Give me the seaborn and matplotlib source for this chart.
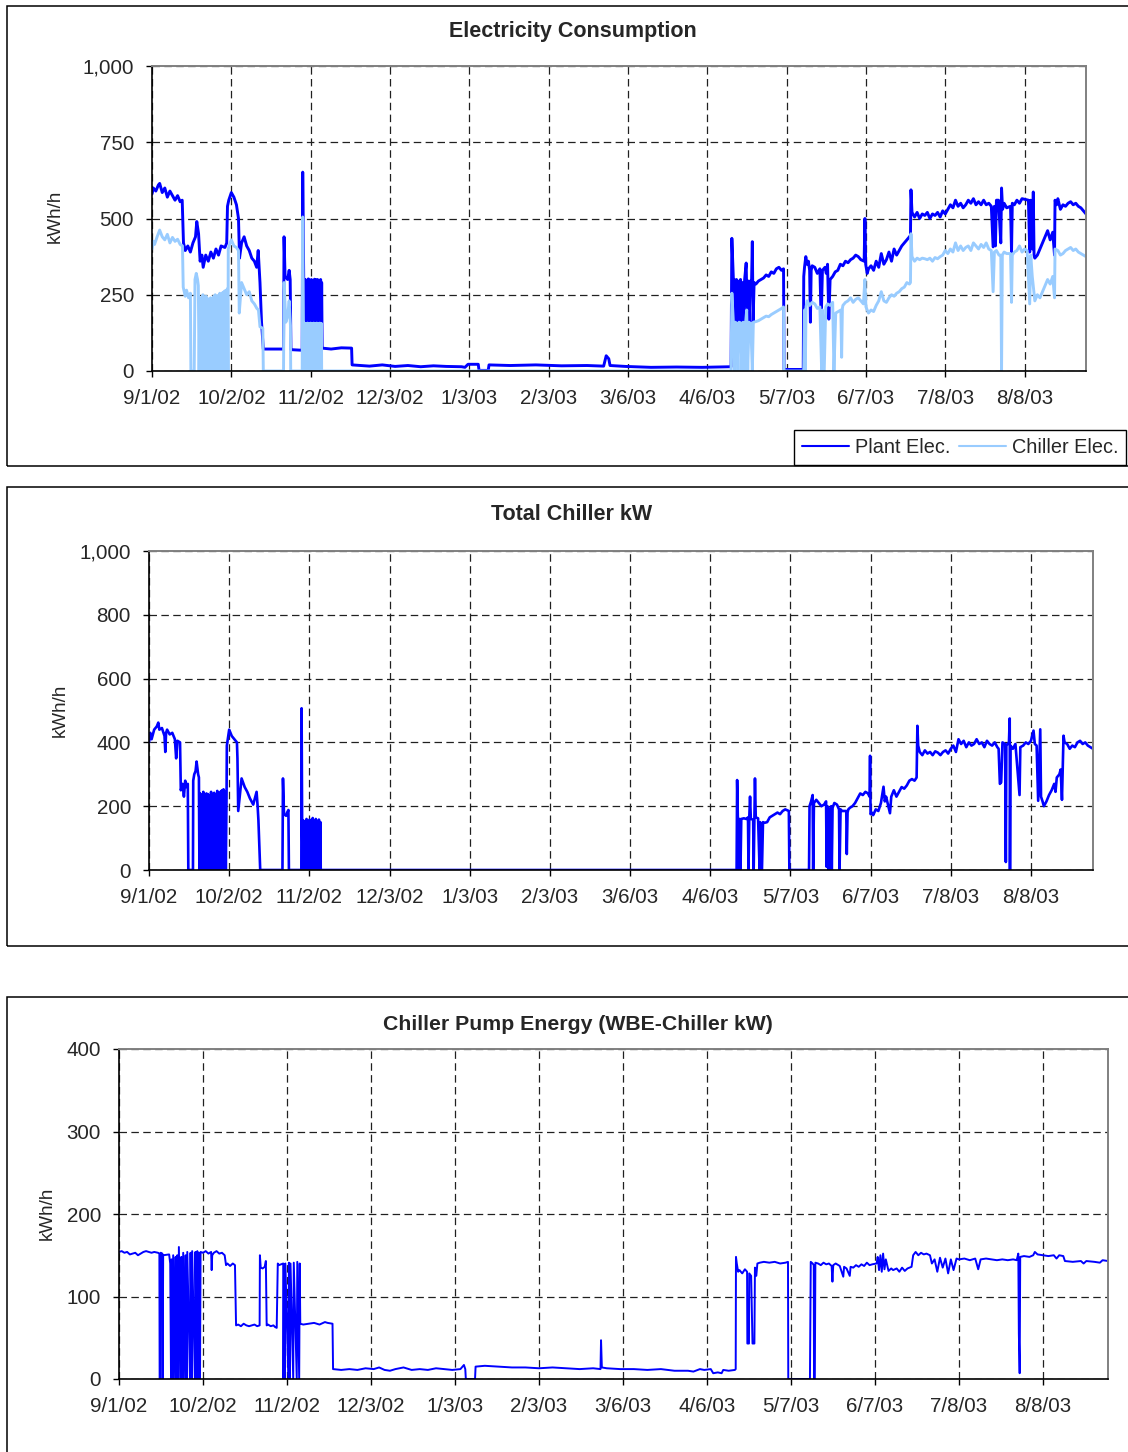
import numpy as np
import pandas as pd
import matplotlib
matplotlib.use("Agg")
from matplotlib import pyplot as plt
from matplotlib.lines import Line2D
from matplotlib.patches import Rectangle
import seaborn as sns

# === Data (days counted from 9/1/02) ===
tick_days = [0, 31, 62, 93, 124, 155, 186, 217, 248, 279, 310, 341]
tick_labels = ["9/1/02", "10/2/02", "11/2/02", "12/3/02", "1/3/03", "2/3/03",
               "3/6/03", "4/6/03", "5/7/03", "6/7/03", "7/8/03", "8/8/03"]

# Electricity Consumption - Plant Elec. (kWh/h)
plant_elec = [
    (0, 580), (0.5, 600), (1.5, 590), (2.5, 610), (3, 615), (4, 585), (5, 600), (6, 570),
    (7, 590), (8, 575), (9, 560), (10, 575), (11, 555), (11.8, 560),
    (12.3, 420), (13, 395), (14, 410), (15, 390), (16, 420), (17, 440), (17.5, 490),
    (18.2, 450), (18.8, 360), (19.5, 380), (20, 340), (21, 380), (22, 360), (23, 390),
    (24, 370), (25, 400), (26, 380), (27, 410), (28.5, 405), (29.2, 420),
    (29.5, 540), (30, 560), (31, 585), (32, 570), (33, 545), (33.8, 500), (34.2, 370),
    (35, 420), (36, 440), (37, 410), (38, 395), (39, 370), (40, 360), (40.9, 340),
    (41.5, 395), (42.2, 290), (42.8, 160), (43.5, 72),
    (51.4, 72), (51.6, 440), (52, 310), (53, 300), (53.6, 330), (54, 300), (54.3, 70),
    (58.7, 68), (58.9, 652),
    (59.3, 290), (59.6, 157), (59.9, 300), (60.2, 160), (60.5, 296), (60.8, 157),
    (61.1, 302), (61.4, 158), (61.7, 298), (62.0, 160), (62.3, 300), (62.6, 157),
    (62.9, 297), (63.2, 160), (63.5, 301), (63.8, 158), (64.1, 299), (64.4, 157),
    (64.7, 300), (65.0, 160), (65.3, 296), (65.6, 157), (65.9, 300), (66.2, 158),
    (66.3, 290), (66.5, 75), (70, 72), (74, 76), (78, 75),
    (78.2, 20), (85, 16), (90, 20), (95, 15), (100, 18), (105, 14), (110, 17), (115, 15),
    (121, 14), (122.3, 12), (123.5, 22), (127.5, 22), (127.8, 2), (131.4, 2), (131.7, 20),
    (140, 18), (150, 20), (160, 17), (170, 18), (176.5, 16), (177.5, 50), (178.5, 40),
    (179, 18), (185, 15), (195, 12), (205, 13), (215, 12), (226.3, 14),
    (226.6, 435), (227.2, 300), (227.5, 300), (228, 157), (228.4, 300), (228.8, 290),
    (229.2, 157), (229.6, 295), (230, 300), (230.4, 160), (230.8, 290), (231.2, 157),
    (231.6, 300), (232.2, 354), (232.6, 160), (233, 295), (233.4, 160), (233.8, 295),
    (234.3, 290), (234.6, 424), (234.9, 160), (235.3, 290), (236, 285),
    (237, 295), (238, 300), (239, 305), (240, 315), (241, 310), (242, 325), (243, 320),
    (244, 335), (245, 340), (246, 330), (246.8, 335), (247, 5),
    (254.5, 5), (254.7, 310), (255, 340), (255.5, 375), (256, 350), (256.5, 360),
    (257, 330), (257.3, 160), (257.6, 330), (258, 345), (259, 340), (260, 320),
    (261, 335), (261.5, 165), (262, 330), (263, 340), (263.5, 320), (264, 350),
    (264.5, 170), (265, 300), (266, 310), (267, 325), (268, 330), (269, 350), (270, 345),
    (271, 360), (272, 355), (273, 365), (274, 370), (275, 380), (276, 375), (277, 365),
    (278.3, 360), (278.6, 500), (278.9, 350), (279.5, 320), (280, 335),
    (281, 345), (282, 330), (283, 360), (284, 340), (285, 385), (286, 350), (287, 365),
    (288, 390), (289, 360), (290, 400), (291, 380), (292, 395), (293, 410), (294, 420),
    (295, 430), (296, 440), (296.4, 445), (296.6, 594), (297, 520), (298, 505),
    (299, 520), (300, 500), (301, 515), (302, 510), (303, 520), (304, 500), (305, 515),
    (306, 510), (307, 520), (308, 505), (309, 525), (310, 515), (311, 530), (312, 545),
    (313, 535), (314, 560), (315, 540), (316, 550), (317, 535), (318, 545), (319, 560),
    (320, 550), (321, 565), (322, 545), (323, 555), (324, 545), (325, 560), (326, 545),
    (327, 550), (328, 540), (328.7, 407), (329.2, 540), (329.6, 410), (330, 560),
    (330.8, 560), (331.7, 420), (332, 600), (332.4, 530), (333, 550), (334, 535),
    (335.5, 540), (335.9, 390), (336.2, 550), (337, 545), (338, 560), (339, 550),
    (340, 565), (342.5, 560), (343, 390), (343.4, 560), (344, 400), (344.4, 587),
    (344.7, 380), (345, 370), (346, 380), (347, 400), (348, 420), (349, 440), (350, 460),
    (351, 430), (352, 455), (352.7, 380), (352.9, 560), (353.5, 545), (354, 565),
    (355, 530), (356, 545), (357, 540), (358, 550), (359, 555), (360, 545), (361, 550),
    (362, 540), (363, 535), (364, 525), (365, 515),
]

# Electricity Consumption - Chiller Elec. (kWh/h)
chiller_elec = [
    (0, 400), (0.5, 425), (1, 415), (2, 440), (3, 462), (4, 440), (5, 430), (6, 448),
    (7, 420), (8, 438), (9, 425), (10, 432), (11, 415), (11.9, 410), (12.2, 275),
    (13, 245), (13.5, 265), (14.3, 240), (15, 255), (15.2, 0), (16.5, 0), (16.8, 300),
    (17.3, 320), (17.8, 300), (18.1, 280),
    (18.4, 0), (18.7, 240), (19.0, 0), (19.3, 235), (19.6, 0), (19.9, 250), (20.2, 0),
    (20.5, 230), (20.8, 0), (21.1, 245), (21.4, 0), (21.7, 238), (22.0, 0), (22.3, 225),
    (22.6, 0), (22.9, 240), (23.2, 0), (23.5, 232), (23.8, 0), (24.1, 245), (24.4, 0),
    (24.7, 250), (25.0, 0), (25.3, 236), (25.6, 0), (25.9, 248), (26.2, 0), (26.5, 255),
    (26.8, 0), (27.1, 240), (27.4, 0), (27.7, 258), (28.0, 0), (28.3, 262), (28.6, 0),
    (28.9, 265), (29.2, 0), (29.5, 270), (29.7, 0),
    (29.8, 400), (30.5, 420), (31, 430), (32, 410), (33, 405), (33.8, 395), (34.1, 190),
    (35, 290), (36, 270), (37, 250), (38, 260), (39, 230), (40, 220), (41, 205),
    (41.6, 200), (42.2, 145), (43.3, 140), (43.5, 0),
    (51.4, 0), (51.6, 290), (52.3, 160), (53, 180), (53.6, 230), (54.1, 150), (54.2, 0),
    (58.7, 0), (58.9, 505),
    (59.3, 0), (59.6, 157), (59.9, 0), (60.2, 155), (60.5, 0), (60.8, 157), (61.1, 0),
    (61.4, 156), (61.7, 0), (62.0, 157), (62.3, 0), (62.6, 155), (62.9, 0), (63.2, 157),
    (63.5, 0), (63.8, 156), (64.1, 0), (64.4, 157), (64.7, 0), (65.0, 155), (65.3, 0),
    (65.6, 157), (65.9, 0), (66.2, 156), (66.3, 0),
    (226.3, 0), (226.6, 255), (227.2, 160), (227.6, 0), (228, 160), (228.5, 155),
    (229, 0), (229.4, 160), (230, 158), (230.5, 0), (231, 160), (231.5, 0), (232, 160),
    (232.4, 200), (232.8, 0), (233.3, 160), (234, 155), (234.6, 0), (235, 160),
    (236, 162), (237, 165), (238, 170), (239, 175), (240, 180), (241, 178), (242, 185),
    (243, 190), (244, 195), (245, 200), (246, 205), (246.8, 210), (247, 0),
    (254.5, 0), (254.7, 0), (255, 200), (255.3, 0), (255.6, 210), (256, 230), (257, 215),
    (258, 225), (259, 220), (260, 205), (261, 210), (261.7, 0), (262, 200), (262.7, 0),
    (263.3, 210), (264, 220), (265, 215), (266, 225), (266.5, 0), (267.2, 190),
    (269.2, 200), (269.5, 45), (269.8, 205), (270, 215), (271, 225), (272, 230),
    (273, 240), (274, 225), (275, 235), (276, 240), (277, 230), (278, 220), (278.6, 300),
    (279, 210), (280, 190), (281, 200), (282, 195), (283, 215), (284, 230), (285, 260),
    (286, 230), (287, 225), (288, 240), (289, 250), (290, 245), (291, 255), (292, 260),
    (293, 270), (294, 275), (295, 290), (296, 285), (296.4, 290), (296.6, 450),
    (297, 375), (298, 360), (299, 370), (300, 365), (301, 370), (302, 368), (303, 365),
    (304, 370), (305, 360), (306, 372), (307, 368), (308, 375), (309, 380), (310, 395),
    (311, 385), (312, 400), (313, 390), (314, 420), (315, 395), (316, 410), (317, 395),
    (318, 405), (319, 410), (320, 395), (321, 420), (322, 410), (323, 400), (324, 415),
    (325, 405), (326, 420), (327, 400), (328, 395), (328.7, 260), (329.2, 390),
    (330, 395), (331, 380), (331.7, 380), (332, 0), (332.3, 380), (333, 390), (334, 385),
    (335.5, 385), (335.9, 225), (336.2, 380), (337, 390), (338, 395), (339, 410),
    (340, 390), (341, 400), (342, 395), (343, 220), (343.4, 380), (344, 310), (345, 230),
    (346, 250), (347, 240), (348, 260), (349, 280), (350, 300), (351, 285), (352, 310),
    (352.7, 240), (352.9, 400), (354, 395), (355, 380), (356, 385), (357, 395),
    (358, 400), (359, 405), (360, 395), (361, 400), (362, 390), (363, 385), (364, 380),
    (365, 375),
]

# Total Chiller kW
total_chiller_kw = [
    (0, 400), (0.5, 430), (1, 410), (2, 440), (3, 450), (3.6, 462), (4, 440), (5, 445),
    (6, 420), (6.3, 370), (6.6, 430), (7, 440), (8, 425), (9, 430), (10, 410),
    (10.5, 350), (11, 405), (12, 400), (12.3, 250), (13, 270), (13.5, 230), (14, 280),
    (14.5, 260), (15, 270), (15.2, 0), (17.0, 0), (17.1, 280), (17.5, 300), (18, 310),
    (18.4, 340), (19, 300), (19.3, 290),
    (19.5, 0), (19.8, 240), (20.1, 0), (20.4, 235), (20.7, 0), (21.0, 245), (21.3, 0),
    (21.6, 230), (21.9, 0), (22.2, 240), (22.5, 0), (22.8, 238), (23.1, 0), (23.4, 232),
    (23.7, 0), (24.0, 245), (24.3, 0), (24.6, 236), (24.9, 0), (25.2, 242), (25.5, 0),
    (25.8, 234), (26.1, 0), (26.4, 248), (26.7, 0), (27.0, 240), (27.3, 0), (27.6, 245),
    (27.9, 0), (28.2, 250), (28.5, 0), (28.8, 253), (29.1, 0), (29.4, 245), (29.7, 0),
    (30.0, 250), (30.1, 390), (31, 440), (32, 420), (33, 410), (34, 400), (34.2, 350),
    (34.5, 185), (35.8, 287), (37, 260), (38, 245), (39, 225), (40.3, 205), (41.6, 245),
    (42, 200), (42.3, 157), (43.0, 0),
    (51.6, 0), (51.8, 287), (52.2, 175), (53, 170), (53.4, 180), (53.9, 188), (54.1, 0),
    (58.9, 0), (59.0, 507), (59.2, 150),
    (59.4, 0), (59.7, 155), (60.0, 0), (60.3, 150), (60.6, 0), (60.9, 160), (61.2, 0),
    (61.5, 152), (61.8, 0), (62.1, 158), (62.4, 0), (62.7, 150), (63.0, 0), (63.3, 163),
    (63.6, 0), (63.9, 155), (64.2, 0), (64.5, 160), (64.8, 0), (65.1, 152), (65.4, 0),
    (65.7, 158), (66.0, 0), (66.3, 150), (66.4, 0),
    (227.2, 0), (227.4, 282), (227.7, 155), (228.0, 0), (228.4, 160), (228.7, 0),
    (229, 160), (230, 162), (231, 160), (231.6, 165), (231.8, 0), (232.1, 165),
    (232.4, 230), (232.7, 160), (233.6, 158), (233.8, 0), (234.1, 160), (234.3, 287),
    (234.6, 165), (235.5, 162), (236.1, 0), (236.3, 150), (237, 0), (237.4, 150),
    (238, 148), (239, 150), (240, 165), (241, 170), (242, 175), (243, 180), (244, 175),
    (245, 185), (246, 190), (247.4, 185), (247.6, 0),
    (255.2, 0), (255.4, 200), (256, 215), (256.6, 235), (256.8, 0), (257.1, 210),
    (258, 220), (259, 210), (260, 200), (261, 205), (261.8, 215), (262, 10), (262.3, 200),
    (262.7, 0), (263.2, 190), (263.8, 200), (264, 0), (264.3, 195), (265, 210),
    (266, 205), (266.8, 190), (267, 0), (267.4, 190), (268, 185), (269.6, 185),
    (269.8, 50), (270.1, 180), (270.4, 190), (271, 195), (272, 200), (273, 210),
    (274, 225), (275, 240), (276, 235), (277, 245), (278, 240), (278.6, 230), (278.8, 358),
    (279, 175), (279.5, 180), (280, 172), (281, 190), (282, 185), (283, 210), (284, 261),
    (284.5, 215), (285, 230), (286.5, 178), (287, 230), (288, 250), (289, 230),
    (290, 245), (291, 260), (292, 255), (293, 265), (294, 280), (295, 285), (296, 280),
    (296.8, 290), (297.1, 452), (297.4, 390), (298, 370), (299, 360), (300, 375),
    (301, 365), (302, 370), (303, 360), (304, 372), (305, 368), (306, 360), (307, 370),
    (308, 375), (309, 365), (310, 380), (311, 390), (312, 370), (313, 410), (314, 395),
    (315, 405), (316, 385), (317, 400), (318, 390), (319, 395), (320, 410), (321, 395),
    (322, 400), (323, 385), (324, 405), (325, 395), (326, 390), (327, 400), (328, 385),
    (328.5, 380), (329, 270), (329.5, 275), (330, 400), (331, 395), (331.3, 25),
    (331.5, 390), (332.5, 400), (332.8, 475), (332.9, 0), (333.1, 390), (334, 380),
    (335, 395), (336.6, 235), (336.9, 385), (338, 390), (339, 400), (340, 395),
    (341, 405), (342, 437), (342.5, 395), (343.2, 390), (343.8, 217), (344.6, 441),
    (344.9, 230), (345.5, 215), (346, 200), (347, 215), (348, 235), (349, 250),
    (350, 270), (350.5, 245), (351, 290), (352, 300), (352.5, 315), (353, 220),
    (353.6, 421), (354, 400), (355, 395), (356, 380), (357, 390), (358, 385), (359, 400),
    (360, 405), (361, 395), (362, 400), (363, 390), (364, 385), (365, 380),
]

# Chiller Pump Energy (WBE-Chiller kW)
pump_energy = [
    (0, 154), (1, 155), (2, 153), (3, 154), (4, 151), (5, 152), (6, 153), (7, 150),
    (8, 152), (9, 154), (10, 155), (11, 154), (12, 153), (13, 154), (14.4, 153),
    (14.9, 152), (15.0, 0), (15.2, 0), (15.4, 153), (16.0, 152), (16.1, 0), (16.3, 150),
    (18.5, 151), (18.9, 140), (19.2, 0), (19.4, 145), (19.8, 0), (20, 150), (20.7, 0),
    (20.9, 148), (21.3, 0), (21.5, 150), (21.9, 0), (22.1, 160), (22.8, 0), (23, 148),
    (23.5, 0), (23.7, 153), (24.4, 0), (24.6, 150), (25.0, 0), (25.2, 154), (26.2, 0),
    (26.4, 153), (26.8, 0), (27.0, 155), (28.0, 0), (28.2, 154), (28.7, 0), (28.9, 155),
    (29.3, 0), (29.5, 153), (29.9, 0), (30.1, 154), (31, 153), (32, 155), (33, 152),
    (34, 154), (34.2, 132), (34.4, 150), (35, 153), (36, 155), (37, 152), (38, 153),
    (39, 150), (39.5, 138), (40, 140), (41, 137), (42, 140), (42.8, 138),
    (43.2, 65), (44, 66), (45, 64), (46, 67), (47, 65), (48, 64), (49, 65), (50, 66),
    (51, 64), (51.9, 65), (52.0, 150), (52.3, 135), (53, 134), (53.8, 136), (54.2, 143),
    (54.5, 65), (55, 66), (56, 64), (57, 65), (57.6, 63), (58.2, 62),
    (58.6, 140), (59.0, 138), (60.6, 140), (60.7, 0), (60.9, 139), (61.2, 0), (61.4, 140),
    (62.5, 0), (62.7, 141), (63.1, 0), (63.3, 140), (64.3, 0), (64.5, 141), (65.6, 0),
    (65.8, 142), (66.5, 0), (66.7, 140), (66.9, 67), (68, 66), (70, 67), (72, 68),
    (74, 66), (76, 69), (77, 68), (78.8, 67),
    (79, 12), (82, 11), (85, 12), (88, 11), (91, 13), (94, 12), (96, 14), (98, 11),
    (100, 10), (102, 12), (105, 14), (108, 11), (111, 12), (114, 11), (117, 13),
    (120, 12), (123, 11), (126, 12), (127.3, 17), (127.8, 12), (128.0, 0), (131.4, 0),
    (131.6, 15), (135, 16), (140, 15), (145, 14), (150, 14), (155, 13), (160, 14),
    (165, 13), (170, 12), (175, 13), (177.7, 12), (177.9, 47), (178.2, 14), (180, 13),
    (185, 12), (190, 12), (195, 11), (200, 12), (205, 10), (210, 10), (212, 9),
    (214.4, 12), (216, 11), (218.4, 12), (219.3, 7), (221, 8), (222.4, 7), (223, 11),
    (225, 10), (227.3, 11), (227.6, 12),
    (227.7, 148), (228, 140), (228.5, 130), (229, 132), (230, 128), (231, 133),
    (231.8, 130), (231.9, 43), (232.5, 43), (232.6, 128), (233.3, 125), (233.8, 43),
    (234.5, 43), (234.7, 135), (235.2, 125), (235.6, 140), (236.5, 141), (238, 142),
    (240, 141), (242, 142), (244, 140), (246, 141), (246.9, 142), (247.0, 0),
    (255.0, 0), (255.3, 142), (256.0, 140), (256.4, 138), (256.5, 0), (256.8, 0),
    (257, 141), (258, 140), (259, 138), (260, 141), (261, 139), (262, 140), (263, 137),
    (263.3, 118), (263.6, 138), (264.5, 140), (266, 137), (267.3, 124), (267.6, 136),
    (268.5, 134), (269.7, 125), (270, 136), (271, 135), (272, 138), (273, 136),
    (274, 139), (275, 137), (276, 141), (277, 138), (278, 139), (279.6, 140), (280, 148),
    (280.5, 132), (281, 150), (281.5, 130), (282, 152), (282.5, 133), (283, 145),
    (284, 131), (285, 134), (285.7, 132), (287, 134), (288, 130), (289, 135), (290, 131),
    (291, 134), (292.5, 136), (293.1, 150), (294, 154), (295, 150), (296, 153),
    (297, 151), (298, 152), (299.3, 150), (300, 140), (301, 145), (302, 130), (303, 147),
    (304, 135), (305, 146), (306, 128), (307, 145), (308, 132), (309.1, 146), (310, 145),
    (312, 146), (314, 144), (316, 146), (317.1, 133), (318, 145), (320, 146), (322, 145),
    (324, 144), (326, 145), (328, 144), (330, 145), (331.3, 144), (331.9, 152),
    (332.1, 55), (332.4, 7), (332.6, 148), (334, 149), (336, 148), (337.4, 150),
    (338, 154), (339, 151), (341, 150), (343, 149), (345, 150), (346, 146), (347, 150),
    (348.5, 149), (349.1, 143), (352, 142), (355, 143), (356, 140), (357, 143),
    (360, 142), (362, 141), (363, 144), (365, 143),
]

panel1_yticks = [0, 250, 500, 750, 1000]
panel2_yticks = [0, 200, 400, 600, 800, 1000]
panel3_yticks = [0, 100, 200, 300, 400]

DARK = "#0000FF"
LIGHT = "#99CCFF"

sns.set_style("white")
plt.rcParams['font.family'] = ['Liberation Sans', 'DejaVu Sans']

W, H = 1128, 1452
fig = plt.figure(figsize=(W / 100, H / 100), dpi=100)


def px_rect(left, top, right, bottom):
    # figure-fraction rect from pixel edges
    return [left / W, 1 - bottom / H, (right - left) / W, (bottom - top) / H]


def to_df(pts):
    return pd.DataFrame(pts, columns=["day", "value"])


def style_axes(ax, yticks, ymax):
    ax.set_xlim(0, 365)
    ax.set_ylim(0, ymax)
    ax.set_xticks(tick_days)
    ax.set_xticklabels(tick_labels)
    ax.set_yticks(yticks)
    ax.set_yticklabels([f"{v:,}" for v in yticks])
    ax.set_xlabel("")
    ax.set_ylabel("")
    ax.set_axisbelow(True)
    ax.grid(True, color="#202020", linestyle=(0, (6, 3.5)), linewidth=0.9)
    for side in ["left", "bottom"]:
        ax.spines[side].set_color("black")
        ax.spines[side].set_linewidth(1.2)
    for side in ["top", "right"]:
        ax.spines[side].set_color("#808080")
        ax.spines[side].set_linewidth(1.4)
    ax.tick_params(axis="both", direction="out", length=4, width=1, color="black",
                   labelsize=14.8, bottom=True, left=True)
    ax.tick_params(axis="x", pad=9)
    ax.tick_params(axis="y", pad=9)


# outer panel frames
for top, bottom in [(6, 466), (487, 946), (997, 1460)]:
    fig.patches.append(Rectangle((7 / W, 1 - bottom / H), (1150 - 7) / W, (bottom - top) / H,
                                 transform=fig.transFigure, fill=False,
                                 edgecolor="black", linewidth=1.1, zorder=0))

# === Panel 1: Electricity Consumption ===
ax1 = fig.add_axes(px_rect(152, 66, 1086, 371))
sns.lineplot(data=to_df(plant_elec), x="day", y="value", ax=ax1, color=DARK,
             linewidth=2.1, estimator=None, sort=False)
sns.lineplot(data=to_df(chiller_elec), x="day", y="value", ax=ax1, color=LIGHT,
             linewidth=2.1, estimator=None, sort=False)
style_axes(ax1, panel1_yticks, 1000)
fig.text(573 / W, 1 - 31 / H, "Electricity Consumption", ha="center", va="center",
         fontsize=15.5, fontweight="bold")
fig.text(55 / W, 1 - 216 / H, "kWh/h", ha="center", va="center", rotation=90, fontsize=13.5)

handles = [Line2D([], [], color=DARK, linewidth=1.5), Line2D([], [], color=LIGHT, linewidth=1.5)]
leg = fig.legend(handles, ["Plant Elec.", "Chiller Elec."], loc="upper left",
                 bbox_to_anchor=(794 / W, 1 - 430 / H), bbox_transform=fig.transFigure,
                 ncol=2, fontsize=14.3, frameon=True, fancybox=False, framealpha=1,
                 edgecolor="black", borderpad=0.4, borderaxespad=0, handlelength=2.35,
                 handletextpad=0.3, columnspacing=0.45)
leg.get_frame().set_linewidth(1.0)

# === Panel 2: Total Chiller kW ===
ax2 = fig.add_axes(px_rect(149, 551, 1093, 870))
sns.lineplot(data=to_df(total_chiller_kw), x="day", y="value", ax=ax2, color=DARK,
             linewidth=1.9, estimator=None, sort=False)
style_axes(ax2, panel2_yticks, 1000)
fig.text(572 / W, 1 - 514 / H, "Total Chiller kW", ha="center", va="center",
         fontsize=15.5, fontweight="bold")
fig.text(60 / W, 1 - 710 / H, "kWh/h", ha="center", va="center", rotation=90, fontsize=13.5)

# === Panel 3: Chiller Pump Energy ===
ax3 = fig.add_axes(px_rect(119, 1049, 1108, 1379))
sns.lineplot(data=to_df(pump_energy), x="day", y="value", ax=ax3, color=DARK,
             linewidth=1.4, estimator=None, sort=False)
style_axes(ax3, panel3_yticks, 400)
fig.text(578 / W, 1 - 1024 / H, "Chiller Pump Energy (WBE-Chiller kW)", ha="center",
         va="center", fontsize=15.3, fontweight="bold")
fig.text(47 / W, 1 - 1213 / H, "kWh/h", ha="center", va="center", rotation=90, fontsize=13.5)

fig.savefig("out.png", dpi=100, facecolor="white")
